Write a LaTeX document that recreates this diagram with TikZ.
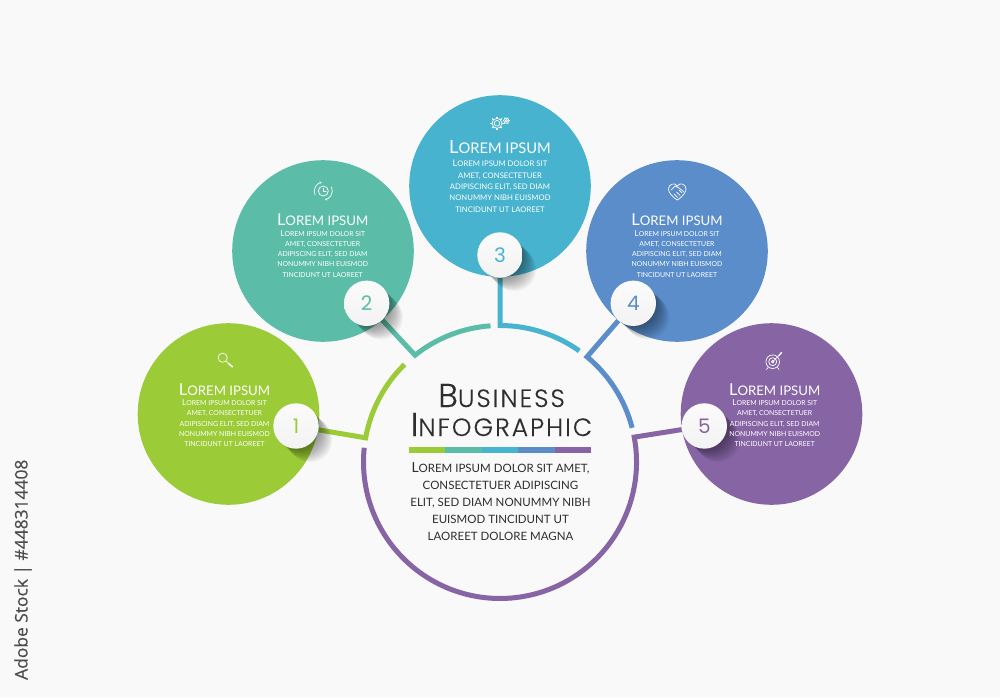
\documentclass[tikz,border=0pt]{standalone}
\usepackage{fontspec}
\usetikzlibrary{arrows.meta}
\newfontfamily\titlefont[LetterSpace=8,FakeBold=0.25]{Poppins Light}
\newfontfamily\numfont{Poppins}
\newfontfamily\cardfont{Lato}
\newfontfamily\sidefont[FakeBold=0.4]{Open Sans}
\definecolor{bgc}{HTML}{F9F9FA}
\definecolor{cgreen}{HTML}{9BCB37}
\definecolor{cteal}{HTML}{5BBDA8}
\definecolor{ccyan}{HTML}{48B3CE}
\definecolor{cblue}{HTML}{5A8DCA}
\definecolor{cpurple}{HTML}{8765A5}
\definecolor{ink}{HTML}{2E2E30}
\pgfdeclarelayer{bglayer}\pgfdeclarelayer{connlayer}\pgfdeclarelayer{shadlayer}
\pgfsetlayers{bglayer,connlayer,shadlayer,main}
\newcommand\CardBody[2]{{\fontsize{#2}{#2}\selectfont L}\uppercase{orem ipsum dolor sit}\\\uppercase{amet, consectetuer}\\\uppercase{adipiscing elit, sed diam}\\\uppercase{nonummy nibh euismod}\\\uppercase{tincidunt ut laoreet}}
\newcommand\CardTitle[2]{{\fontsize{#2}{#2}\selectfont L}\uppercase{orem ipsum}}
\newcommand\Shadow[1]{\begin{pgfonlayer}{shadlayer}\foreach \i in {1,...,15}{\fill[black,opacity=.03] ([shift={(\i*.95,-\i*.95)}]#1) circle[radius=22];}\end{pgfonlayer}}
\tikzset{
 x=1pt,y=1pt,
 bigdisc/.style={circle,minimum size=181.6pt,inner sep=0,fill=#1},
 badge/.style={circle,minimum size=45.4pt,inner sep=0,top color=white!97!gray,bottom color=white!90!gray,text=#1,font=\numfont\fontsize{20}{20}\selectfont},
 conn/.style={line width=5pt,line join=miter,miter limit=10,draw=#1},
 ctitle/.style={text=white,inner sep=0,anchor=base,font=\cardfont\fontsize{13.2}{13.2}\selectfont},
 cbody/.style={text=white,inner sep=0,anchor=north,align=center,font=\cardfont\fontsize{6.9}{10.25}\selectfont},
 ctitleB/.style={text=white,inner sep=0,anchor=base,font=\cardfont\fontsize{14.7}{14.7}\selectfont},
 cbodyB/.style={text=white,inner sep=0,anchor=north,align=center,font=\cardfont\fontsize{7.7}{11.35}\selectfont},
 icon/.style={draw=white,line width=.7pt,fill=none,line cap=round,line join=round},
 barseg/.style={fill=#1,draw=none},
}
\begin{document}
\begin{tikzpicture}
\useasboundingbox (0,0) rectangle (1000,697);
\coordinate (ring) at (500,235);
\begin{pgfonlayer}{bglayer}
\fill[bgc] (0,0) rectangle (1000,697);
\node[bigdisc=cgreen] (c1) at (228.5,283) {};
\node[bigdisc=cteal] (c2) at (323,446) {};
\node[bigdisc=ccyan] (c3) at (500,511) {};
\node[bigdisc=cblue] (c4) at (677,446) {};
\node[bigdisc=cpurple] (c5) at (771.5,283) {};
\end{pgfonlayer}
% badges
\coordinate (p1) at (296,271); \coordinate (p2) at (366.7,393.7); \coordinate (p3) at (500,442);
\coordinate (p4) at (633.3,393.7); \coordinate (p5) at (704.3,271);
\Shadow{p1}\Shadow{p2}\Shadow{p3}\Shadow{p4}\Shadow{p5}
\node[badge=cgreen] (n1) at (p1) {1};
\node[badge=cteal] (n2) at (p2) {2};
\node[badge=ccyan] (n3) at (p3) {3};
\node[badge=cblue] (n4) at (p4) {4};
\node[badge=cpurple] (n5) at (p5) {5};
% ring corners
\coordinate (k1) at ([shift={(169.8:136.5)}]ring);
\coordinate (k2) at ([shift={(128.5:136.5)}]ring);
\coordinate (k3) at ([shift={(90:136.5)}]ring);
\coordinate (k4) at ([shift={(50.4:136.5)}]ring);
\coordinate (k5) at ([shift={(10.5:136.5)}]ring);
\begin{pgfonlayer}{connlayer}
\draw[conn=cgreen] (n1) -- (k1) arc[start angle=169.8,end angle=134.4,radius=136.5];
\draw[conn=cteal] (n2) -- (k2) arc[start angle=128.5,end angle=94,radius=136.5];
\draw[conn=ccyan] (n3) -- (k3) arc[start angle=90,end angle=54.5,radius=136.5];
\draw[conn=cblue] (n4) -- (k4) arc[start angle=50.4,end angle=14.5,radius=136.5];
\draw[conn=cpurple] (n5) -- (k5) arc[start angle=10.5,end angle=-186,radius=136.5];
\end{pgfonlayer}
% card texts
\node[ctitle] (t1) at (224.5,302) {\CardTitle{13.2}{16.4}};
\node[cbody] (b1) at (224.5,297.5) {\CardBody{6.9}{8.2}};
\node[ctitle] (t2) at (322.7,471) {\CardTitle{13.2}{16.4}};
\node[cbody] (b2) at (322.7,467) {\CardBody{6.9}{8.2}};
\node[ctitleB] (t3) at (500,543.5) {\CardTitle{14.7}{18.2}};
\node[cbodyB] (b3) at (500,537) {\CardBody{7.7}{9.1}};
\node[ctitle] (t4) at (677,471) {\CardTitle{13.2}{16.4}};
\node[cbody] (b4) at (677,467) {\CardBody{6.9}{8.2}};
\node[ctitle] (t5) at (774.7,302) {\CardTitle{13.2}{16.4}};
\node[cbody] (b5) at (774.7,297.5) {\CardBody{6.9}{8.2}};
% centre
\node[inner sep=0,anchor=base,text=ink,font=\titlefont\fontsize{25}{25}\selectfont] (h1) at (501.5,290) {{\fontsize{33}{33}\selectfont B}\uppercase{usiness}};
\node[inner sep=0,anchor=base,text=ink,font=\titlefont\fontsize{25}{25}\selectfont] (h2) at (501.5,261) {{\fontsize{33}{33}\selectfont I}\uppercase{nfographic}};
\fill[barseg=cgreen] (409,243.7) rectangle (445.4,250.3);
\fill[barseg=cteal] (445.4,243.7) rectangle (481.8,250.3);
\fill[barseg=ccyan] (481.8,243.7) rectangle (518.2,250.3);
\fill[barseg=cblue] (518.2,243.7) rectangle (554.6,250.3);
\fill[barseg=cpurple] (554.6,243.7) rectangle (591,250.3);
\node[inner sep=0,anchor=north,align=center,text=ink,font=\cardfont\fontsize{11.5}{17}\selectfont] (desc) at (500.5,234.5) {{\fontsize{13.8}{17}\selectfont L}\uppercase{orem ipsum dolor sit amet,}\\\uppercase{consectetuer adipiscing}\\\uppercase{elit, sed diam nonummy nibh}\\\uppercase{euismod tincidunt ut}\\\uppercase{laoreet dolore magna}};
% side label
\node[rotate=90,inner sep=0,anchor=west,text=ink!85,font=\sidefont\fontsize{17.4}{17.4}\selectfont] (side) at (23,17) {Adobe Stock | \#448314408};
% icons
\begin{scope}[icon]
% magnifier
\draw (222.7,339.3) circle[radius=4.6];
\draw (226,336) -- (228,334);
\draw[line width=1.6pt] (228.3,333.7) -- (232.3,330.3);
% clock
\draw (323.3,506) circle[radius=5];
\draw (323.3,509) -- (323.3,506) -- (326.3,506);
\draw[-{Stealth[length=2pt,width=2.4pt]}] (315,502) arc[start angle=205,end angle=100,radius=9];
\draw[-{Stealth[length=2pt,width=2.4pt]}] (331.5,510) arc[start angle=25,end angle=-80,radius=9];
% gears
\draw (497,573.7) circle[radius=2.8];
\draw (497,573.7) circle[radius=5];
\foreach \a in {0,45,...,315}{\draw[line width=1.3pt,line cap=butt] ([shift={(\a:4.8)}]497,573.7) -- ([shift={(\a:6.6)}]497,573.7);}
\draw (506.3,576.3) circle[radius=1.2];
\draw (506.3,576.3) circle[radius=2.6];
\foreach \a in {0,60,...,300}{\draw[line width=.9pt,line cap=butt] ([shift={(\a:2.5)}]506.3,576.3) -- ([shift={(\a:3.5)}]506.3,576.3);}
% heart handshake
\draw (677.3,497) .. controls (671,501) and (668.5,505) .. (668.5,508) .. controls (668.5,513) and (675,515) .. (677.3,511) .. controls (680,515) and (686,513) .. (686,508) .. controls (686,505) and (683.5,501) .. (677.3,497) -- cycle;
\draw (671,507) -- (675,511) -- (679,509) -- (684,505);
\draw (674,503) -- (677.5,499.5) (676.5,505) -- (680,501.5) (679,507) -- (682,504);
% target
\draw (772.7,335.3) circle[radius=6.8];
\draw (772.7,335.3) circle[radius=4];
\draw (772.7,335.3) circle[radius=1.4];
\draw (772.7,335.3) -- (780,342.5);
\draw[line width=1.4pt] (779,341.5) -- (781.5,344.5);
\draw (768,329.5) -- (766.5,327.5) (777.5,329.5) -- (779,327.5);
\end{scope}
\end{tikzpicture}
\end{document}
